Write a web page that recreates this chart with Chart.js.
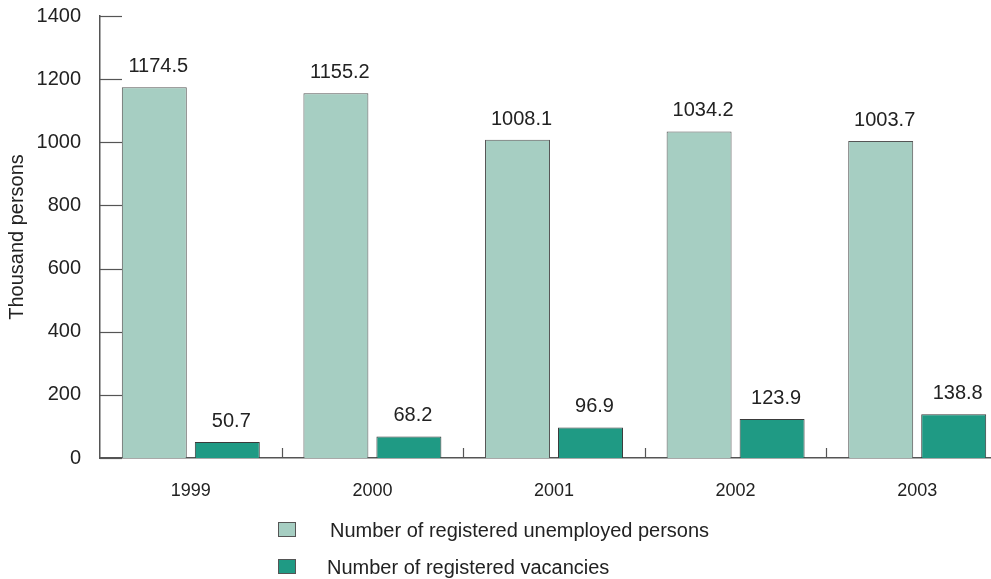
<!DOCTYPE html>
<html>
<head>
<meta charset="utf-8">
<script src="https://cdn.jsdelivr.net/npm/chart.js@4.4.1/dist/chart.umd.min.js"></script>
<style>
  html, body { margin: 0; padding: 0; background: #fff; overflow: hidden; }
  #wrap { position: relative; width: 991px; height: 579px; overflow: hidden; }
  #box { position: absolute; left: 0; top: 0; width: 1008px; height: 579px; }
  .legend { position: absolute; font-family: "Liberation Sans", Arial, sans-serif; font-size: 20px; color: #222; }
  .legend .sw { position: absolute; width: 18px; height: 15px; border: 1px solid #555; box-sizing: border-box; }
  .legend .tx { position: absolute; white-space: nowrap; line-height: 22px; }
</style>
</head>
<body>
<div id="wrap">
  <div id="box"><canvas id="chart"></canvas></div>
  <div class="legend" id="legend"></div>
</div>
<script>
// --- Data ---
const years = ["1999", "2000", "2001", "2002", "2003"];
const unemployed = [1174.5, 1155.2, 1008.1, 1034.2, 1003.7];
const vacancies = [50.7, 68.2, 96.9, 123.9, 138.8];
const seriesNames = ["Number of registered unemployed persons", "Number of registered vacancies"];
const yTicks = [0, 200, 400, 600, 800, 1000, 1200, 1400];

const lightGreen = "#a6cec2";
const darkGreen = "#1f9a84";
const textColor = "#222";
const axisColor = "#555";
const FONT = '"Liberation Sans", Arial, sans-serif';

// --- Legend (stacked, below the plot) ---
const legendEl = document.getElementById("legend");
[[lightGreen, seriesNames[0], 522, 330], [darkGreen, seriesNames[1], 559, 327]].forEach(([c, t, y, tx]) => {
  const sw = document.createElement("div");
  sw.className = "sw";
  sw.style.cssText = `left:278px;top:${y}px;background:${c};`;
  const label = document.createElement("div");
  label.className = "tx";
  label.style.cssText = `left:${tx}px;top:${y - 3}px;`;
  label.textContent = t;
  legendEl.appendChild(sw);
  legendEl.appendChild(label);
});

// --- Plugin: inward tick marks + value labels ---
const decorations = {
  id: "decorations",
  afterDatasetsDraw(chart) {
    const { ctx, chartArea, scales } = chart;
    ctx.save();
    ctx.strokeStyle = axisColor;
    ctx.lineWidth = 1.2;

    // y ticks point right, into the plot
    yTicks.forEach(v => {
      const y = Math.round(scales.y.getPixelForValue(v)) + 0.5;
      ctx.beginPath();
      ctx.moveTo(chartArea.left, y);
      ctx.lineTo(chartArea.left + 22, y);
      ctx.stroke();
    });

    // category separators rise from the x axis
    for (let i = 1; i < years.length; i++) {
      const x = Math.round((scales.x.getPixelForValue(i - 1) + scales.x.getPixelForValue(i)) / 2) + 0.5;
      ctx.beginPath();
      ctx.moveTo(x, chartArea.bottom);
      ctx.lineTo(x, chartArea.bottom - 10);
      ctx.stroke();
    }

    // value labels above each bar
    ctx.fillStyle = textColor;
    ctx.font = `20px ${FONT}`;
    ctx.textAlign = "center";
    ctx.textBaseline = "alphabetic";
    chart.data.datasets.forEach((ds, di) => {
      chart.getDatasetMeta(di).data.forEach((bar, i) => {
        ctx.fillText(ds.data[i].toFixed(1), bar.x + 4, bar.y - 15);
      });
    });
    ctx.restore();
  }
};

new Chart(document.getElementById("chart"), {
  type: "bar",
  data: {
    labels: years,
    datasets: [
      { label: seriesNames[0], data: unemployed, backgroundColor: lightGreen, borderColor: "#555", borderWidth: 1 },
      { label: seriesNames[1], data: vacancies, backgroundColor: darkGreen, borderColor: "#3a3a3a", borderWidth: 1 }
    ]
  },
  options: {
    responsive: true,
    maintainAspectRatio: false,
    animation: false,
    layout: { padding: { top: 16, right: 0, left: 0, bottom: 0 } },
    datasets: { bar: { categoryPercentage: 0.804, barPercentage: 0.89 } },
    plugins: { legend: { display: false }, tooltip: { enabled: false } },
    scales: {
      x: {
        offset: true,
        grid: { display: false, drawTicks: false },
        border: { color: axisColor, width: 1.5 },
        ticks: { color: textColor, font: { family: FONT, size: 18 }, padding: 22 },
        afterFit(scale) { scale.height = 121; }
      },
      y: {
        min: 0,
        max: 1400,
        afterBuildTicks(scale) { scale.ticks = yTicks.map(v => ({ value: v })); },
        grid: { display: false, drawTicks: false },
        border: { color: axisColor, width: 1.5 },
        ticks: {
          color: textColor,
          font: { family: FONT, size: 20 },
          padding: 19,
          callback: v => String(v)
        },
        title: {
          display: true,
          text: "Thousand persons",
          color: textColor,
          font: { family: FONT, size: 20 },
          padding: { top: 5, bottom: 0 }
        },
        afterFit(scale) {
          scale.width = 100;
          scale.paddingTop = 0;
          scale.paddingBottom = 0;
        }
      }
    }
  },
  plugins: [decorations]
});
</script>
</body>
</html>
